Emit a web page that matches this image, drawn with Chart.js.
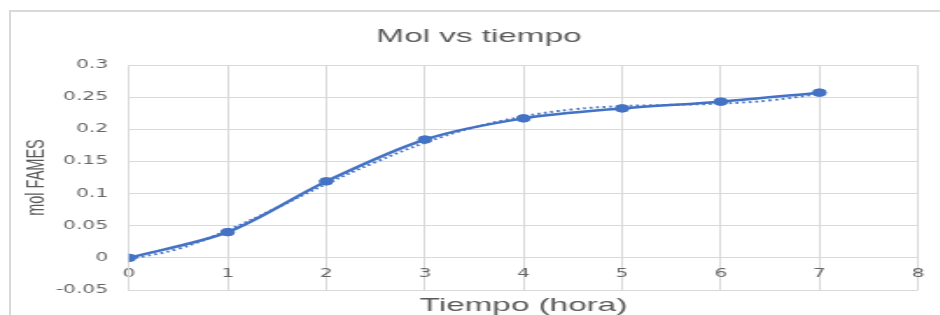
<!DOCTYPE html>
<html>
<head>
<meta charset="utf-8">
<script src="https://cdn.jsdelivr.net/npm/chart.js@4.4.1/dist/chart.umd.min.js"></script>
<style>
  html, body { margin: 0; padding: 0; background: #fff; overflow: hidden; }
  #wrap { position: relative; width: 940px; height: 315px; overflow: hidden; background: #fff; }
  #c { position: absolute; left: 0; top: 0; transform: scaleX(1.75); transform-origin: 0 0; }
  #frame { position: absolute; left: 9px; top: 10px; width: 1000px; height: 400px;
           border: 2px solid #d9d9d9; pointer-events: none; }
</style>
</head>
<body>
<div id="wrap">
  <canvas id="c" width="550" height="315"></canvas>
  <div id="frame"></div>
</div>
<script>
// ---- data ----
const chartTitle = 'Mol vs tiempo';
const xAxisTitle = 'Tiempo (hora)';
const yAxisTitle = 'mol FAMES';

const timeHours = [0, 1, 2, 3, 4, 5, 6, 7];
const molFames  = [0, 0.040, 0.119, 0.184, 0.217, 0.2325, 0.243, 0.257];

// dotted trend line
const trendX = [0, 0.5, 1, 1.5, 2, 2.5, 3, 3.5, 4, 4.5, 5, 5.5, 6, 6.5, 7];
const trendY = [-0.002, 0.014, 0.043, 0.078, 0.115, 0.149, 0.179, 0.203, 0.220, 0.231, 0.236, 0.238, 0.240, 0.245, 0.255];

const xTickLabels = ['0', '1', '2', '3', '4', '5', '6', '7', '8'];
const yTickLabels = ['-0.05', '0', '0.05', '0.1', '0.15', '0.2', '0.25', '0.3'];

// ---- chart ----
const BLUE = '#4472C4';
const GRID = '#d9d9d9';
const TEXT = '#595959';
const TICK_FONT = { family: "'DejaVu Sans', sans-serif", size: 11.5 };

Chart.defaults.font.family = "'Liberation Sans', Arial, sans-serif";
Chart.defaults.color = TEXT;

const seriesPoints = timeHours.map((t, i) => ({ x: t, y: molFames[i] }));
const trendPoints = trendX.map((t, i) => ({ x: t, y: trendY[i] }));

new Chart(document.getElementById('c'), {
  type: 'line',
  data: {
    datasets: [
      {
        label: 'Tendencia',
        data: trendPoints,
        borderColor: BLUE,
        borderWidth: 2,
        borderDash: [1.6, 2.2],
        pointRadius: 0,
        tension: 0.4,
        fill: false
      },
      {
        label: 'mol FAMES',
        data: seriesPoints,
        borderColor: BLUE,
        backgroundColor: BLUE,
        borderWidth: 2.5,
        pointRadius: 3.8,
        pointBackgroundColor: BLUE,
        pointBorderColor: BLUE,
        pointBorderWidth: 1,
        tension: 0.3,
        fill: false
      }
    ]
  },
  options: {
    responsive: false,
    animation: false,
    devicePixelRatio: 1,
    layout: { padding: { left: 2, right: 4.6, top: 13, bottom: 25 } },
    plugins: {
      legend: { display: false },
      tooltip: { enabled: false },
      title: {
        display: true,
        text: chartTitle,
        color: TEXT,
        font: { size: 19, weight: 'normal' },
        padding: { top: 12, bottom: 17.2 }
      }
    },
    scales: {
      x: {
        type: 'linear',
        position: { y: 0 },
        min: 0,
        max: 8,
        afterFit: (s) => { s.height = 63; },
        afterBuildTicks: (s) => { s.ticks = xTickLabels.map((_, i) => ({ value: i })); },
        ticks: {
          stepSize: 1,
          padding: 9,
          color: '#666',
          font: TICK_FONT,
          callback: (v, i) => xTickLabels[i]
        },
        grid: { color: GRID, lineWidth: 1, drawTicks: false },
        border: { color: GRID, width: 1 },
        title: {
          display: true,
          text: xAxisTitle,
          color: TEXT,
          font: { size: 19 },
          padding: { top: 4, bottom: 4 }
        }
      },
      y: {
        type: 'linear',
        position: 'left',
        min: -0.05,
        max: 0.3,
        afterFit: (s) => { s.width = 71.7; },
        afterBuildTicks: (s) => { s.ticks = yTickLabels.map((l) => ({ value: parseFloat(l) })); },
        ticks: {
          stepSize: 0.05,
          padding: 12,
          color: '#666',
          font: TICK_FONT,
          callback: (v, i) => yTickLabels[i]
        },
        grid: { color: GRID, lineWidth: 1, drawTicks: false },
        border: { color: GRID, width: 1 },
        title: {
          display: true,
          text: yAxisTitle,
          color: TEXT,
          font: { size: 14.5 },
          padding: { top: 9.9, bottom: 0 }
        }
      },
      yR: {
        type: 'linear',
        position: 'right',
        display: true,
        afterFit: (s) => { s.width = 20.8; },
        ticks: { display: false },
        grid: { display: false, drawTicks: false },
        border: { display: false },
        title: { display: false }
      }
    }
  }
});
</script>
</body>
</html>
